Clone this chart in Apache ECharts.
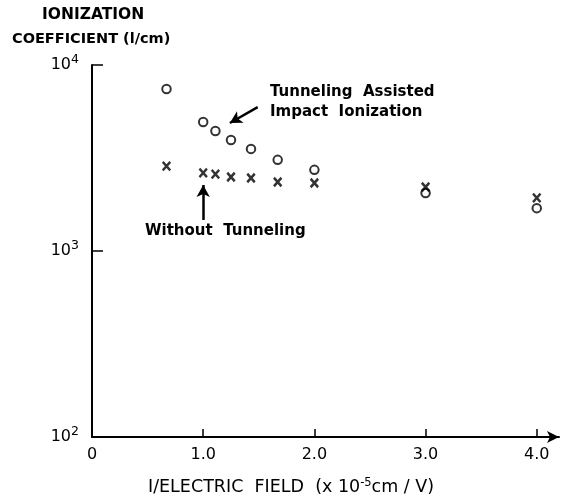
<!DOCTYPE html>
<html>
<head>
<meta charset="utf-8">
<script src="https://cdn.jsdelivr.net/npm/echarts@6/dist/echarts.min.js"></script>
<style>html,body{margin:0;padding:0;background:#fff;}#c{width:576px;height:499px;}</style>
</head>
<body>
<div id="c"></div>
<script>
// 1/electric field (x 1e-5 cm/V)
var fieldInv = [0.67, 1.0, 1.11, 1.25, 1.43, 1.67, 2.0, 3.0, 4.0];
// ionization coefficient (1/cm)
var withTunneling = [7430, 4940, 4420, 3950, 3540, 3090, 2730, 2050, 1700];
var withoutTunneling = [2860, 2630, 2590, 2500, 2470, 2350, 2320, 2210, 1930];
var xTickLabels = ['0', '1.0', '2.0', '3.0', '4.0'];
var xTickValues = [0, 1, 2, 3, 4];
// annotation arrows in data coordinates [from, to]
var arrowTunneling = [[1.49, 5940], [1.24, 4875]];
var arrowWithout = [[1.0, 1468], [1.0, 2265]];

var FONT = 'DejaVu Sans';
var chart = echarts.init(document.getElementById('c'), null, {renderer: 'canvas'});

function pairs(xs, ys) { return xs.map(function (x, i) { return [x, ys[i]]; }); }

var option = {
  backgroundColor: '#fff',
  animation: false,
  grid: {left: 92, right: 17, top: 65, bottom: 62, outerBoundsMode: 'none'},
  xAxis: {
    type: 'value', min: 0, max: 4.2, interval: 1,
    axisLine: {show: true, symbol: ['none', 'arrow'], symbolSize: [9, 12], lineStyle: {color: '#000', width: 2}},
    axisTick: {show: true, inside: true, length: 8, customValues: [1, 2, 3, 4], lineStyle: {color: '#000', width: 1.5}},
    axisLabel: {
      customValues: xTickValues, margin: 10, color: '#000', fontFamily: FONT, fontSize: 16,
      formatter: function (v) { var i = xTickValues.indexOf(v); return i >= 0 ? xTickLabels[i] : ''; }
    },
    splitLine: {show: false}
  },
  yAxis: {
    type: 'log', logBase: 10, min: 100, max: 10000,
    axisLine: {show: true, lineStyle: {color: '#000', width: 2}},
    axisTick: {show: true, inside: true, length: 11, lineStyle: {color: '#000', width: 1.5}},
    minorTick: {show: false},
    axisLabel: {
      margin: 13, color: '#000', fontFamily: FONT,
      formatter: function (v) { return '{b|10}{s|' + Math.round(Math.log10(v)) + '}'; },
      rich: {
        b: {fontSize: 16, fontFamily: FONT, color: '#000'},
        s: {fontSize: 12.5, fontFamily: FONT, color: '#000', padding: [0, 0, 10, 0]}
      }
    },
    splitLine: {show: false}
  },
  series: [
    {
      name: 'Tunneling Assisted Impact Ionization',
      type: 'scatter',
      data: pairs(fieldInv, withTunneling),
      symbol: 'emptyCircle', symbolSize: 8.5,
      itemStyle: {color: '#000', borderWidth: 2.2},
      markLine: {
        silent: true, symbol: ['none', 'arrow'], symbolSize: [10, 12],
        lineStyle: {color: '#000', width: 2.5, type: 'solid'},
        label: {show: false},
        data: [[{coord: arrowTunneling[0]}, {coord: arrowTunneling[1]}]]
      }
    },
    {
      name: 'Without Tunneling',
      type: 'scatter',
      data: pairs(fieldInv, withoutTunneling),
      symbol: 'path://M0,0L10,10M10,0L0,10', symbolSize: [7.5, 8.5],
      itemStyle: {color: 'rgba(0,0,0,0)', borderColor: '#000', borderWidth: 2.6},
      markLine: {
        silent: true, symbol: ['none', 'arrow'], symbolSize: [10, 12],
        lineStyle: {color: '#000', width: 2.5, type: 'solid'},
        label: {show: false},
        data: [[{coord: arrowWithout[0]}, {coord: arrowWithout[1]}]]
      }
    }
  ],
  graphic: [
    {type: 'text', left: 42, top: 7, style: {text: 'IONIZATION', fontFamily: FONT, fontSize: 15.5, fontWeight: 'bold', fill: '#000'}},
    {type: 'text', left: 12, top: 32, style: {text: 'COEFFICIENT (l/cm)', fontFamily: FONT, fontSize: 14.5, fontWeight: 'bold', fill: '#000'}},
    {type: 'text', left: 270, top: 85, style: {text: 'Tunneling  Assisted', fontFamily: FONT, fontSize: 15, fontWeight: 'bold', fill: '#000'}},
    {type: 'text', left: 270, top: 105, style: {text: 'Impact  Ionization', fontFamily: FONT, fontSize: 15, fontWeight: 'bold', fill: '#000'}},
    {type: 'text', left: 145, top: 224, style: {text: 'Without  Tunneling', fontFamily: FONT, fontSize: 15, fontWeight: 'bold', fill: '#000'}},
    {type: 'text', left: 148, top: 477, style: {
      text: '{a|I/ELECTRIC  FIELD  (x 10}{s|-5}{a|cm / V)}',
      rich: {
        a: {fontFamily: FONT, fontSize: 17.5, fill: '#000'},
        s: {fontFamily: FONT, fontSize: 11.5, fill: '#000', padding: [0, 0, 9, 0]}
      }
    }}
  ]
};
chart.setOption(option);
</script>
</body>
</html>
